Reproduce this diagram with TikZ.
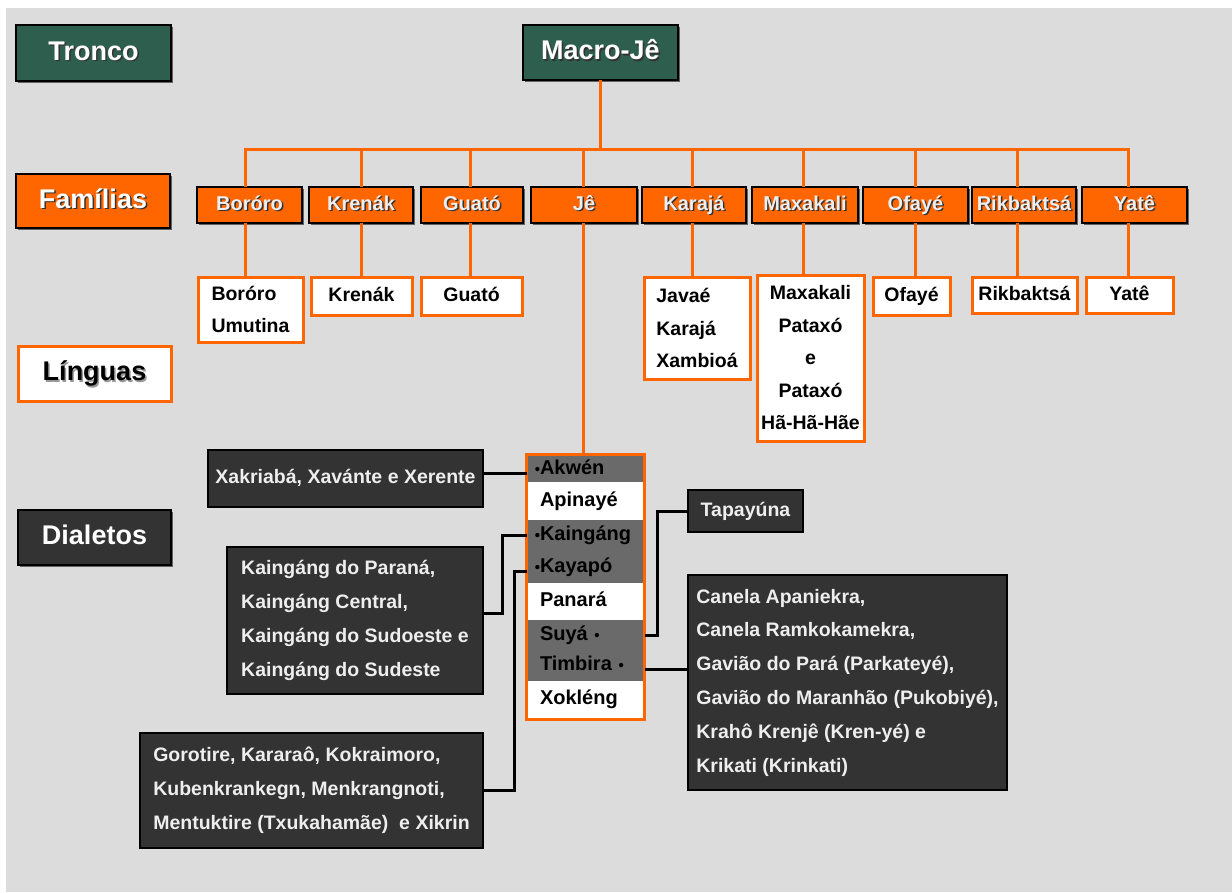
\documentclass[tikz,border=0pt]{standalone}
\usepackage{fontspec}
\setmainfont{Liberation Sans}
\usetikzlibrary{shadows,calc}
\definecolor{bg}{HTML}{DCDCDC}
\definecolor{trgreen}{HTML}{2D5E4E}
\definecolor{orng}{HTML}{FF6600}
\definecolor{dkbox}{HTML}{333333}
\definecolor{rowgray}{HTML}{6A6A6A}
\definecolor{lighttxt}{HTML}{EEEEEE}
\newcommand{\shd}[2][black!80]{\makebox[0pt][l]{\hspace{1.5pt}\raisebox{-1.5pt}{\textcolor{#1}{#2}}}#2}
\newcommand{\bul}{{\fontsize{15}{15}\selectfont •}}
\newcommand{\mkbox}[7]{\node[#1, minimum width={#5-#3}, minimum height={#6-#4}] (#2) at ({(#3+#5)/2},{(#4+#6)/2}) {#7};}
\tikzset{
  hdr/.style={font=\fontsize{27}{30}\selectfont\bfseries, inner sep=0pt, outer sep=0pt, line width=2.5pt,
    text height=19.5pt, text depth=5.5pt},
  boxshadow/.style={drop shadow={shadow xshift=2pt, shadow yshift=-2pt, fill=black, opacity=.55}},
  oneline/.style={text height=14.5pt, text depth=4.5pt},
  fam/.style={fill=orng, draw=black, line width=1.2pt, text=lighttxt, inner sep=0pt, outer sep=0pt,
    font=\fontsize{20}{24}\selectfont\bfseries, boxshadow, oneline},
  lang/.style={fill=white, draw=orng, line width=3pt, text=black, inner sep=0pt, outer sep=0pt, align=left,
    font=\fontsize{19.5}{32.5}\selectfont\bfseries},
  dark/.style={fill=dkbox, draw=black, line width=2.5pt, text=lighttxt, inner sep=0pt, outer sep=0pt, align=left,
    font=\fontsize{19.5}{33.8}\selectfont\bfseries},
  row/.style={inner xsep=12pt, inner ysep=0pt, outer sep=0pt, text width=91pt, align=left, text=black,
    font=\fontsize{20}{24}\selectfont\bfseries, oneline},
  tree/.style={draw=orng, line width=3pt, line join=miter},
  blk/.style={draw=black, line width=3pt, line join=miter},
}
\begin{document}
\begin{tikzpicture}[x=1pt,y=-1pt]
\useasboundingbox (0,0) rectangle (1232,892);
\fill[white] (0,0) rectangle (1232,892);
\fill[bg] (6,8) rectangle (1232,892);

% headers
\mkbox{hdr,fill=trgreen,draw=black,text=white,boxshadow}{tronco}{16}{25}{171}{81}{\shd{Tronco}}
\mkbox{hdr,fill=trgreen,draw=black,text=white,boxshadow}{macro}{523}{25}{678}{80}{\shd{Macro-Jê}}
\mkbox{hdr,fill=orng,draw=black,text=white,boxshadow}{familias}{16}{174}{170}{228}{\shd{Famílias}}
\mkbox{hdr,fill=white,draw=orng,text=black,line width=3pt}{linguas}{18}{346}{171}{401}{\shd[black!40]{Línguas}}
\mkbox{hdr,fill=dkbox,draw=black,text=white,boxshadow}{dialetos}{18}{510}{171}{565}{\shd{Dialetos}}

% families
\mkbox{fam}{bor}{197}{187}{302}{223}{\shd{Boróro}}
\mkbox{fam}{kre}{309}{187}{413}{223}{\shd{Krenák}}
\mkbox{fam}{gua}{421}{187}{523}{223}{\shd{Guató}}
\mkbox{fam}{je}{531}{187}{637}{223}{\shd{Jê}}
\mkbox{fam}{kar}{642}{187}{746}{223}{\shd{Karajá}}
\mkbox{fam}{max}{752}{187}{858}{223}{\shd{Maxakali}}
\mkbox{fam}{ofa}{863}{187}{968}{223}{\shd{Ofayé}}
\mkbox{fam}{rik}{972}{187}{1076}{223}{\shd{Rikbaktsá}}
\mkbox{fam}{yat}{1082}{187}{1187}{223}{\shd{Yatê}}

% languages
\mkbox{lang}{borl}{198}{277}{303}{342}{Boróro\\Umutina}
\mkbox{lang,oneline}{krel}{311}{277}{412}{315}{Krenák}
\mkbox{lang,oneline}{gual}{421}{277}{522}{315}{Guató}
\mkbox{lang}{karl}{644}{277}{750}{379}{Javaé\\Karajá\\Xambioá}
\mkbox{lang,align=center}{maxl}{757}{275}{864}{441}{Maxakali\\Pataxó\\e\\Pataxó\\Hã-Hã-Hãe}
\mkbox{lang,oneline}{ofal}{873}{277}{950}{315}{Ofayé}
\mkbox{lang,oneline}{rikl}{972}{277}{1077}{313}{Rikbaktsá}
\mkbox{lang,oneline}{yatl}{1086}{277}{1173}{313}{Yatê}

% Je list rows
\mkbox{row,fill=rowgray}{r1}{528}{456}{643}{482}{\llap{\bul}Akwén}
\mkbox{row,fill=white}{r2}{528}{482}{643}{520}{Apinayé}
\mkbox{row,fill=rowgray}{r3}{528}{520}{643}{551.5}{\llap{\bul}Kaingáng}
\mkbox{row,fill=rowgray}{r4}{528}{551.5}{643}{583}{\llap{\bul}Kayapó}
\mkbox{row,fill=white}{r5}{528}{583}{643}{620}{Panará}
\mkbox{row,fill=rowgray}{r6}{528}{620}{643}{650.5}{Suyá \bul}
\mkbox{row,fill=rowgray}{r7}{528}{650.5}{643}{681}{Timbira \bul}
\mkbox{row,fill=white}{r8}{528}{681}{643}{718}{Xokléng}
\mkbox{draw=orng,line width=3pt,inner sep=0pt,outer sep=0pt}{jel}{526.5}{454.5}{644.5}{719.5}{}

% dialect boxes
\mkbox{dark,oneline}{xak}{208}{450}{483}{507}{Xakriabá, Xavánte e Xerente}
\mkbox{dark}{kai}{227}{547}{483}{694}{Kaingáng do Paraná,\\Kaingáng Central,\\Kaingáng do Sudoeste e\\Kaingáng do Sudeste}
\mkbox{dark}{gor}{140}{733}{483}{848}{Gorotire, Kararaô, Kokraimoro,\\Kubenkrankegn, Menkrangnoti,\\Mentuktire (Txukahamãe)\ \ e Xikrin}
\mkbox{dark,oneline}{tap}{688}{490}{803}{532}{Tapayúna}
\mkbox{dark}{can}{688}{575}{1007}{790}{Canela Apaniekra,\\Canela Ramkokamekra,\\Gavião do Pará (Parkateyé),\\Gavião do Maranhão (Pukobiyé),\\Krahô Krenjê (Kren-yé) e\\Krikati (Krinkati)}

% tree connectors
\coordinate (busL) at (246,149.5);
\foreach \n/\dx in {bor/-4, kre/0, gua/-2, je/-1, kar/-2, max/-2, ofa/0, rik/-7, yat/-6}{
  \coordinate (\n T) at ([xshift=\dx pt]\n.north);
  \coordinate (\n B) at ([xshift=\dx pt]\n.south);
}
\draw[tree] (macro.south) -- (macro.south |- busL);
\draw[tree] (borT) -- (borT |- busL) -- (yatT |- busL) -- (yatT);
\foreach \n in {kre, gua, je, kar, max, ofa, rik}{
  \draw[tree] (\n T) -- (\n T |- busL);
}
\foreach \n in {bor, kre, gua, kar, max, ofa, rik, yat}{
  \draw[tree] (\n B) -- (\n B |- \n l.north);
}
\draw[tree] (jeB) -- (jeB |- jel.north);

% dialect connectors
\coordinate (xakE) at ([yshift=5pt]xak.east);
\draw[blk] (xakE) -- (xakE -| jel.west);
\coordinate (kaiE) at ([yshift=7pt]kai.east);
\draw[blk] (kaiE) -- ++(19,0) |- (r3.west -| jel.west);
\coordinate (kayW) at ([yshift=-4pt]r4.west);
\draw[blk] (kayW -| jel.west) -| ($(gor.east)+(31,0)$) -- (gor.east);
\coordinate (suyE) at (r6.east -| jel.east);
\draw[blk] (suyE) -- ++(13,0) |- (tap.west);
\coordinate (timE) at ([yshift=-4pt]r7.east);
\draw[blk] (timE -| jel.east) -- (timE -| can.west);
\end{tikzpicture}
\end{document}
